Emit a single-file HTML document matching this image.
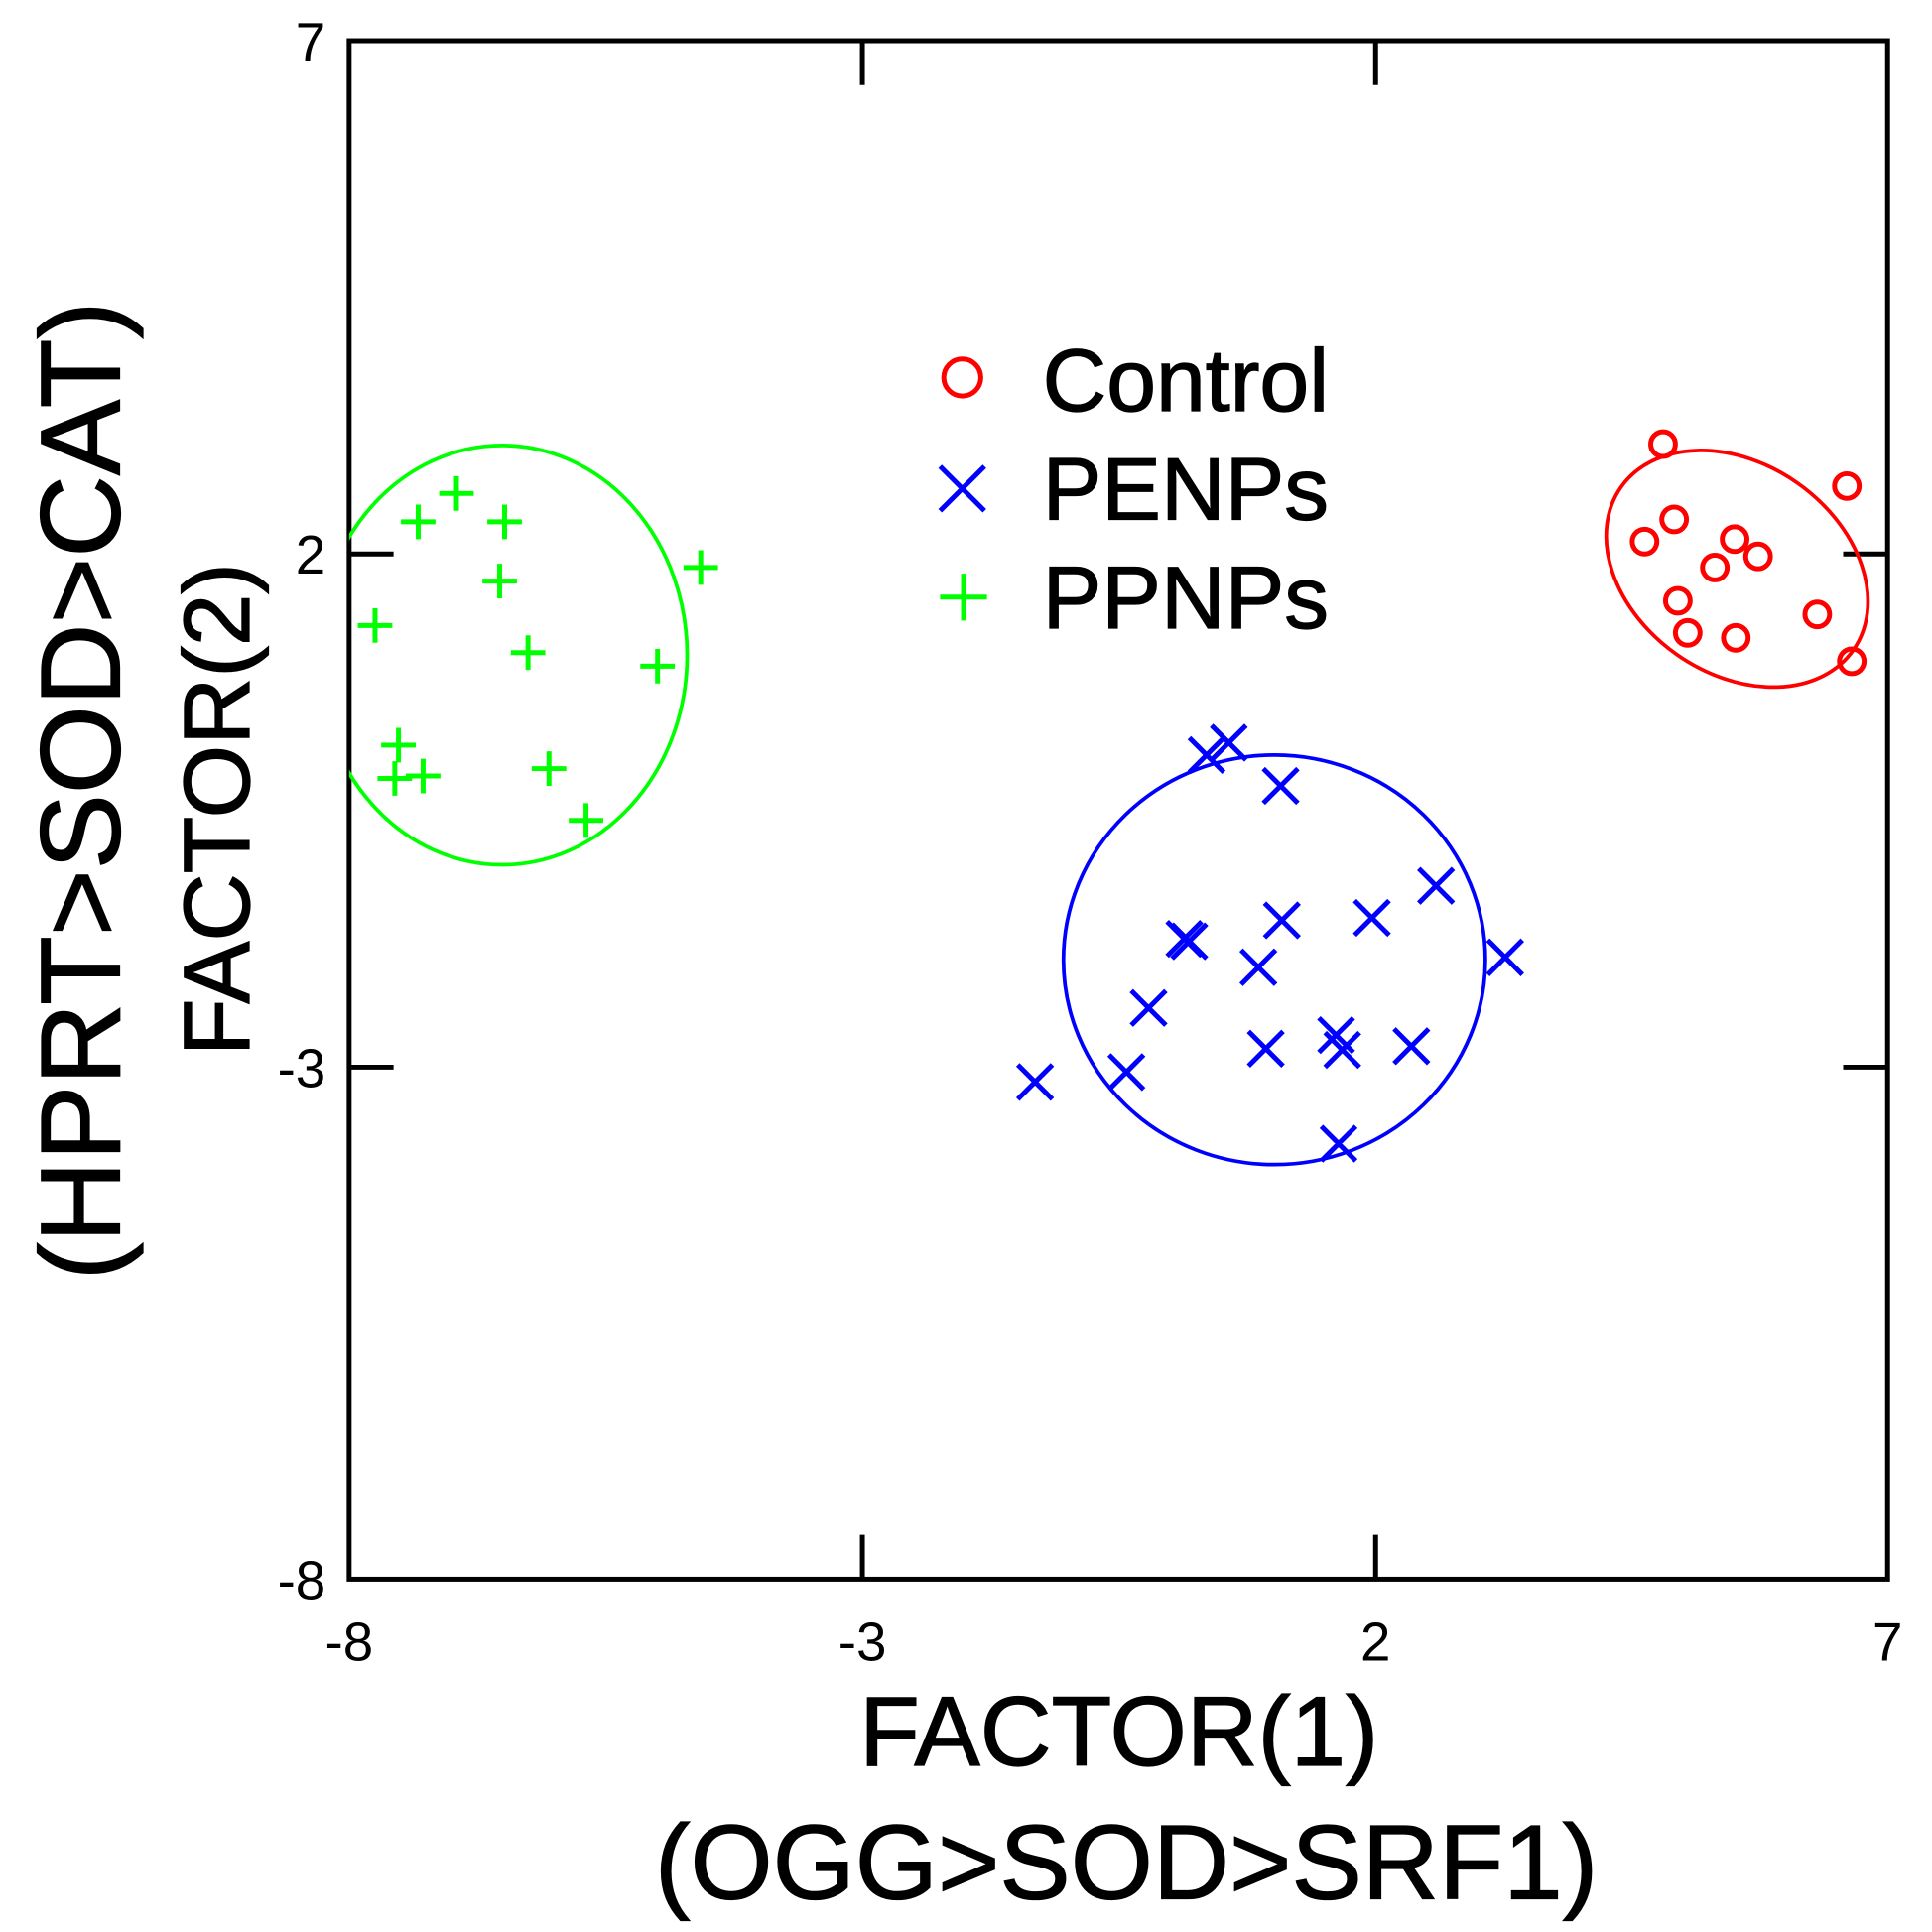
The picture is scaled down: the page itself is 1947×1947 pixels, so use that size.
<!DOCTYPE html>
<html><head><style>html,body{margin:0;padding:0;background:#fff}svg{display:block}</style></head>
<body>
<svg xmlns="http://www.w3.org/2000/svg" width="1947" height="1947" viewBox="-2 -1 1566 1566" font-family="Liberation Sans, Arial, sans-serif">
<defs><clipPath id="c"><rect x="281" y="32" width="1247" height="1247"/></clipPath></defs>
<rect x="-2" y="-1" width="1566" height="1566" fill="#fff"/>
<g stroke="#000" stroke-width="4" fill="none">
<rect x="281" y="32" width="1247" height="1247"/>
<line x1="697" y1="32" x2="697" y2="68"/><line x1="1113" y1="32" x2="1113" y2="68"/>
<line x1="697" y1="1279" x2="697" y2="1243"/><line x1="1113" y1="1279" x2="1113" y2="1243"/>
<line x1="281" y1="448" x2="317" y2="448"/><line x1="281" y1="864" x2="317" y2="864"/>
<line x1="1528" y1="448" x2="1492" y2="448"/><line x1="1528" y1="864" x2="1492" y2="864"/>
</g>
<g font-size="44" fill="#000">
<text x="281" y="1345" text-anchor="middle">-8</text>
<text x="697" y="1345" text-anchor="middle">-3</text>
<text x="1113" y="1345" text-anchor="middle">2</text>
<text x="1528" y="1345" text-anchor="middle">7</text>
<text x="262" y="48" text-anchor="end">7</text>
<text x="262" y="464" text-anchor="end">2</text>
<text x="262" y="880" text-anchor="end">-3</text>
<text x="262" y="1295" text-anchor="end">-8</text>
</g>
<g font-size="80" fill="#000" text-anchor="middle" stroke="#000" stroke-width="1">
<text x="905" y="1430">FACTOR(1)</text>
<text x="911" y="1538" font-size="86">(OGG&gt;SOD&gt;SRF1)</text>
<text transform="translate(200,655) rotate(-90)" font-size="76">FACTOR(2)</text>
<text transform="translate(95,640) rotate(-90)" font-size="92">(HPRT&gt;SOD&gt;CAT)</text>
</g>
<g clip-path="url(#c)" fill="none" stroke-width="3">
<ellipse cx="1406" cy="460" rx="115" ry="85" transform="rotate(35 1406 460)" stroke="#f00"/>
<ellipse cx="1031" cy="777" rx="171" ry="166" stroke="#00f"/>
<ellipse cx="405" cy="530" rx="150" ry="170" stroke="#0f0"/>
</g>
<g stroke="#f00" stroke-width="4" fill="none">
<circle cx="1346" cy="359" r="10"/><circle cx="1495" cy="393" r="10"/><circle cx="1355" cy="420" r="10"/>
<circle cx="1331" cy="438" r="10"/><circle cx="1404" cy="436" r="10"/><circle cx="1423" cy="450" r="10"/>
<circle cx="1388" cy="459" r="10"/><circle cx="1358" cy="486" r="10"/><circle cx="1471" cy="497" r="10"/>
<circle cx="1366" cy="512" r="10"/><circle cx="1405" cy="516" r="10"/><circle cx="1499" cy="535" r="10"/>
<circle cx="778" cy="305" r="15"/>
</g>
<path stroke="#00f" stroke-width="4" fill="none" d="
M962 597l28 28M990 597l-28 28 M980 587l28 28M1008 587l-28 28 M1022 622l28 28M1050 622l-28 28
M1148 703l28 28M1176 703l-28 28 M1023 731l28 28M1051 731l-28 28 M1096 729l28 28M1124 729l-28 28
M944 746l28 28M972 746l-28 28 M948 748l28 28M976 748l-28 28 M1204 761l28 28M1232 761l-28 28
M1004 769l28 28M1032 769l-28 28 M915 802l28 28M943 802l-28 28 M1067 824l28 28M1095 824l-28 28
M1010 835l28 28M1038 835l-28 28 M1072 836l28 28M1100 836l-28 28 M1128 833l28 28M1156 833l-28 28
M897 854l28 28M925 854l-28 28 M823 862l28 28M851 862l-28 28 M1069 912l28 28M1097 912l-28 28
M760 377l36 36M796 377l-36 36"/>
<path stroke="#0f0" stroke-width="4" fill="none" d="
M323 422h28M337 408v28 M354 399h28M368 385v28 M393 422h28M407 408v28 M389 470h28M403 456v28
M552 459h28M566 445v28 M288 506h28M302 492v28 M412 528h28M426 514v28 M517 539h28M531 525v28
M307 603h28M321 589v28 M304 630h28M318 616v28 M327 628h28M341 614v28 M429 622h28M443 608v28
M459 664h28M473 650v28 M760 483h38M779 464v38"/>
<g font-size="72" fill="#000" stroke="#000" stroke-width="1">
<text x="843" y="332">Control</text>
<text x="843" y="420">PENPs</text>
<text x="843" y="508">PPNPs</text>
</g>
</svg>
</body></html>
